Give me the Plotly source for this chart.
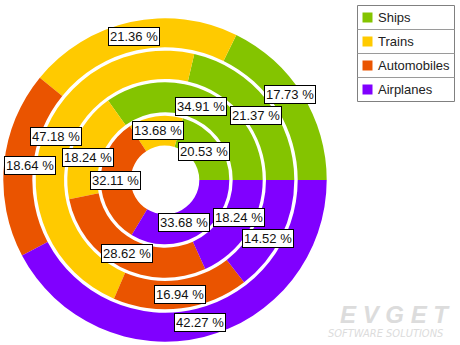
import math
import plotly.graph_objects as go

# ---------------- data ----------------
categories = ["Ships", "Trains", "Automobiles", "Airplanes"]
ring_outer_vals = [17.73, 21.36, 18.64, 42.27]
ring_second_vals = [21.37, 47.18, 16.94, 14.52]
ring_third_vals = [34.91, 18.24, 28.62, 18.24]
ring_inner_vals = [20.53, 13.68, 32.11, 33.68]
colors = ["#84C400", "#FFCA00", "#EA5400", "#8000FF"]

rings = [ring_outer_vals, ring_second_vals, ring_third_vals, ring_inner_vals]

# ---------------- layout geometry (px) ----------------
W, H = 460, 345
CX, CY = 165, 180            # donut centre, px from top-left
R_OUT = [161.7, 129.3, 97.7, 64.3]
R_IN = [132.7, 101.0, 67.7, 34.3]
FONT = "Liberation Sans, Arial, sans-serif"

fig = go.Figure()
for k, vals in enumerate(rings):
    R = R_OUT[k]
    total = sum(vals)
    # plotly's counterclockwise mode places the first slice clockwise of
    # `rotation`; shift so the first slice starts at 3 o'clock going CCW.
    rot = 90 - 360.0 * vals[0] / total
    fig.add_trace(go.Pie(
        labels=categories,
        values=vals,
        sort=False,
        direction="counterclockwise",
        rotation=rot,
        hole=R_IN[k] / R,
        marker=dict(colors=colors, line=dict(width=0)),
        textinfo="none",
        hoverinfo="label+value",
        showlegend=False,
        domain=dict(x=[(CX - R) / W, (CX + R) / W],
                    y=[(H - CY - R) / H, (H - CY + R) / H]),
    ))

# ---------------- value labels (computed from data) ----------------
labels = []
for k, vals in enumerate(rings):
    total = sum(vals)
    rmid = (R_OUT[k] + R_IN[k]) / 2
    cum = 0.0
    for v in vals:
        th = 2 * math.pi * (cum + v / 2) / total
        cum += v
        labels.append([CX + rmid * math.cos(th), CY - rmid * math.sin(th), f"{v:.2f} %"])

BW, BH, GAP = 52, 18, 3
for _ in range(60):
    moved = False
    for i in range(len(labels)):
        for j in range(i + 1, len(labels)):
            dx = labels[j][0] - labels[i][0]
            dy = labels[j][1] - labels[i][1]
            ox = BW + GAP - abs(dx)
            oy = BH + GAP - abs(dy)
            if ox > 0.01 and oy > 0.01:
                if oy <= ox:
                    s = oy / 2 * (1 if dy >= 0 else -1)
                    labels[i][1] -= s
                    labels[j][1] += s
                else:
                    s = ox / 2 * (1 if dx >= 0 else -1)
                    labels[i][0] -= s
                    labels[j][0] += s
                moved = True
    if not moved:
        break

for x, y, t in labels:
    x = min(max(x, BW / 2 + 4), W - BW / 2 - 4)
    y = min(max(y, BH / 2 + 2), H - BH / 2 - 2)
    fig.add_annotation(
        x=x / W, y=1 - y / H, xref="paper", yref="paper",
        text=t, showarrow=False, xanchor="center", yanchor="middle",
        height=15,
        font=dict(family=FONT, size=13, color="#111111"),
        bgcolor="white", bordercolor="#000000", borderwidth=1, borderpad=1,
    )

# ---------------- legend box ----------------
LX0, LX1, LY0 = 357.5, 454.5, 5.5
ROW = 24
shapes = [dict(type="rect", xref="paper", yref="paper",
               x0=LX0 / W, x1=LX1 / W, y0=1 - LY0 / H, y1=1 - (LY0 + ROW * len(categories)) / H,
               line=dict(color="#808080", width=1), fillcolor="white", layer="above")]
for i, (name, col) in enumerate(zip(categories, colors)):
    yc = LY0 + ROW * i + ROW / 2
    if i > 0:
        yl = LY0 + ROW * i
        shapes.append(dict(type="line", xref="paper", yref="paper",
                           x0=LX0 / W, x1=LX1 / W, y0=1 - yl / H, y1=1 - yl / H,
                           line=dict(color="#9a9a9a", width=1), layer="above"))
    shapes.append(dict(type="rect", xref="paper", yref="paper",
                       x0=(LX0 + 5) / W, x1=(LX0 + 15) / W,
                       y0=1 - (yc - 5) / H, y1=1 - (yc + 5) / H,
                       line=dict(width=0), fillcolor=col, layer="above"))
    fig.add_annotation(x=(LX0 + 18) / W, y=1 - yc / H, xref="paper", yref="paper",
                       text=name, showarrow=False, xanchor="left", yanchor="middle",
                       font=dict(family=FONT, size=13, color="#222222"))

# ---------------- watermark ----------------
fig.add_annotation(x=452 / W, y=1 - 314 / H, xref="paper", yref="paper",
                   text="<b><i>E V G E T</i></b>", showarrow=False,
                   xanchor="right", yanchor="middle",
                   font=dict(family=FONT, size=24, color="#DCDCDC"))
fig.add_annotation(x=445 / W, y=1 - 333 / H, xref="paper", yref="paper",
                   text="<i>SOFTWARE SOLUTIONS</i>", showarrow=False,
                   xanchor="right", yanchor="middle",
                   font=dict(family="DejaVu Sans Condensed, " + FONT, size=11, color="#DCDCDC"))

fig.update_layout(
    width=W, height=H,
    margin=dict(l=0, r=0, t=0, b=0),
    paper_bgcolor="white", plot_bgcolor="white",
    shapes=shapes,
    showlegend=False,
)

fig.write_html("out.html")
